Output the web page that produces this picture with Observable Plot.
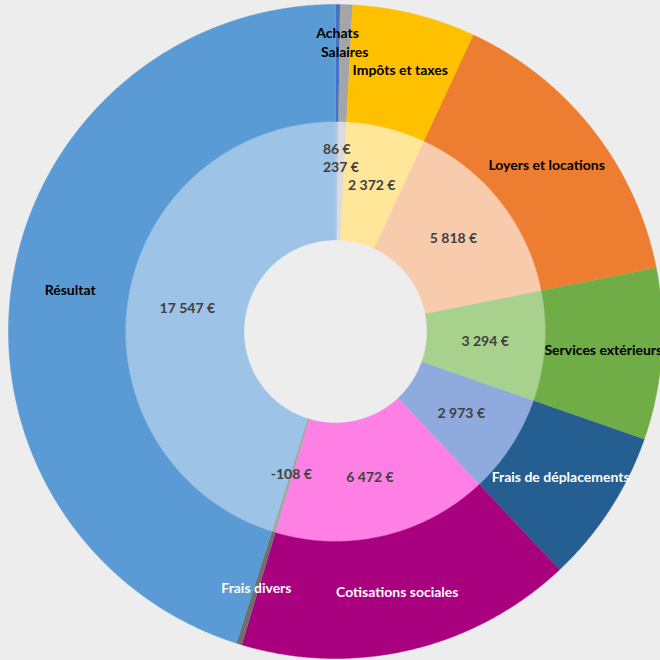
<!DOCTYPE html>
<html>
<head>
<meta charset="utf-8">
<script src="https://cdn.jsdelivr.net/npm/d3@7"></script>
<script src="https://cdn.jsdelivr.net/npm/@observablehq/plot@0.6"></script>
<style>
  html, body { margin: 0; padding: 0; background: #ededed; overflow: hidden; }
  #chart svg { display: block; }
</style>
</head>
<body>
<div id="chart"></div>
<script>
// ---- data ----
const categories = ["Achats", "Salaires", "Impôts et taxes", "Loyers et locations", "Services extérieurs", "Frais de déplacements", "Cotisations sociales", "Frais divers", "Résultat"];
const values = [86, 237, 2372, 5818, 3294, 2973, 6472, -108, 17547];
const outerColors = ["#4472c4", "#a5a5a5", "#ffc000", "#ed7d31", "#70ad47", "#255e91", "#a9007f", "#6f6f6f", "#5b9bd5"];
const innerColors = ["#b4c7e7", "#dbdbdb", "#ffe699", "#f8cbad", "#a9d18e", "#8faadc", "#ff80e5", "#a5a5a5", "#9dc3e6"];
const outerLabelColors = ["#000", "#000", "#000", "#000", "#000", "#fff", "#fff", "#fff", "#000"];

// ---- geometry helpers ----
const W = 660, H = 660;
const R0 = 91.5, R1 = 210, R2 = 327;
const FS = 14;
const FONT = `bold ${FS}px Lato`;
const fmt = v => (v < 0 ? "-" : "") + Math.abs(v).toString().replace(/\B(?=(\d{3})+(?!\d))/g, " ") + " €";
const sizes = values.map(Math.abs);
const total = d3.sum(sizes);
const cum = d3.cumsum(sizes);
const slices = categories.map((c, i) => ({
  i, c,
  a0: ((cum[i] - sizes[i]) / total) * 2 * Math.PI,
  a1: (cum[i] / total) * 2 * Math.PI
}));

function ring(r0, r1, colors, tag) {
  const rows = [];
  for (const s of slices) {
    const n = Math.max(2, Math.ceil((s.a1 - s.a0) / (Math.PI / 720)));
    const pts = [];
    for (let k = 0; k <= n; k++) { const a = s.a0 + (s.a1 - s.a0) * k / n; pts.push([r1 * Math.sin(a), r1 * Math.cos(a)]); }
    for (let k = n; k >= 0; k--) { const a = s.a0 + (s.a1 - s.a0) * k / n; pts.push([r0 * Math.sin(a), r0 * Math.cos(a)]); }
    for (const [x, y] of pts) rows.push({ id: tag + s.i, x, y, color: colors[s.i] });
  }
  return rows;
}
const polys = ring(R0, R1, innerColors, "in").concat(ring(R1, R2, outerColors, "out"));

// label placement with simple outward push on collisions
const ctx = document.createElement("canvas").getContext("2d");
ctx.font = FONT;
function labels(texts, r, colors, pad) {
  const placed = [];
  const out = [];
  for (let i = slices.length - 1; i >= 0; i--) {
    const s = slices[i];
    const a = (s.a0 + s.a1) / 2;
    const w = ctx.measureText(texts[i]).width;
    const h = 14;
    let rr = r, x, y;
    for (let step = 0; step < 200; step++) {
      x = rr * Math.sin(a); y = rr * Math.cos(a);
      const hit = placed.some(p => Math.abs(p.x - x) < (p.w + w) / 2 + 2 && Math.abs(p.y - y) < h + pad);
      if (!hit) break;
      rr += 1;
    }
    placed.push({ x, y, w });
    out.push({ x, y, text: texts[i], color: colors[i] });
  }
  return out;
}
const outerLabels = labels(categories, (R1 + R2) / 2, outerLabelColors, 4);
const innerLabels = labels(values.map(fmt), 150, values.map(() => "#404040"), 4);

const chart = Plot.plot({
  width: W, height: H,
  margin: 0,
  x: { domain: [-335, 325], range: [0, W], axis: null },
  y: { domain: [-329, 331], range: [H, 0], axis: null },
  color: { type: "identity" },
  style: { background: "#ededed", fontFamily: "Lato, sans-serif" },
  marks: [
    Plot.line(polys, { x: "x", y: "y", z: "id", fill: "color", stroke: "color", strokeWidth: 0.5, curve: "linear" }),
    Plot.text(outerLabels.concat(innerLabels), {
      x: "x", y: "y", text: "text", fill: "color",
      fontSize: FS, fontWeight: "bold", fontFamily: "Lato, sans-serif", textAnchor: "middle"
    })
  ]
});
document.getElementById("chart").appendChild(chart);
</script>
</body>
</html>
